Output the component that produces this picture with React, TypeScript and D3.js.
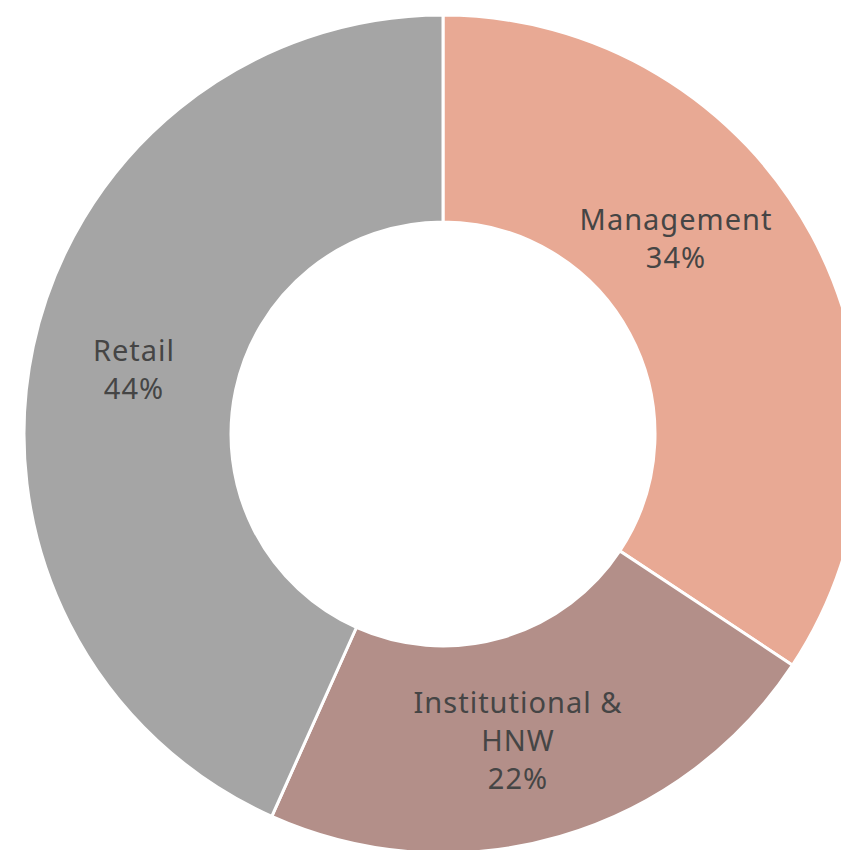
import React from "react";
import * as d3 from "d3";

const categories = ["Management", "Institutional & HNW", "Retail"];
const values = [34.3, 22.4, 43.3];
const labelLines = [["Management", "34%"], ["Institutional &", "HNW", "22%"], ["Retail", "44%"]];
const colors = ["#E8A994", "#B38F89", "#A5A5A5"];

// label anchor offsets from centre (layout)
const labelOffsets: [number, number][] = [[233, -195], [75, 307], [-309, -64]];

const W = 841, H = 850;
const cx = 443, cy = 434;
const R = 419, r = 212;

export default function App() {
  const pie = d3.pie<number>().sort(null).value((d) => d);
  const arcs = pie(values);
  const arc = d3.arc<d3.PieArcDatum<number>>().innerRadius(r).outerRadius(R);
  const lh = 38;
  return (
    <svg width={W} height={H} style={{ position: "absolute", left: 0, top: 0, background: "#fff" }}>
      <g transform={`translate(${cx},${cy})`}>
        {arcs.map((a, i) => (
          <path key={categories[i]} d={arc(a) || ""} fill={colors[i]} stroke="#fff" strokeWidth={3} strokeLinejoin="miter" />
        ))}
        {labelLines.map((lines, i) => {
          const [dx, dy] = labelOffsets[i];
          const n = lines.length;
          return (
            <text key={i} x={dx} y={dy} textAnchor="middle" fontFamily="'Noto Sans', sans-serif" fontSize={29} letterSpacing={1} fill="#454545">
              {lines.map((t, j) => (
                <tspan key={j} x={dx} y={dy + (j - (n - 1) / 2) * lh} dy="0.35em">{t}</tspan>
              ))}
            </text>
          );
        })}
      </g>
    </svg>
  );
}
